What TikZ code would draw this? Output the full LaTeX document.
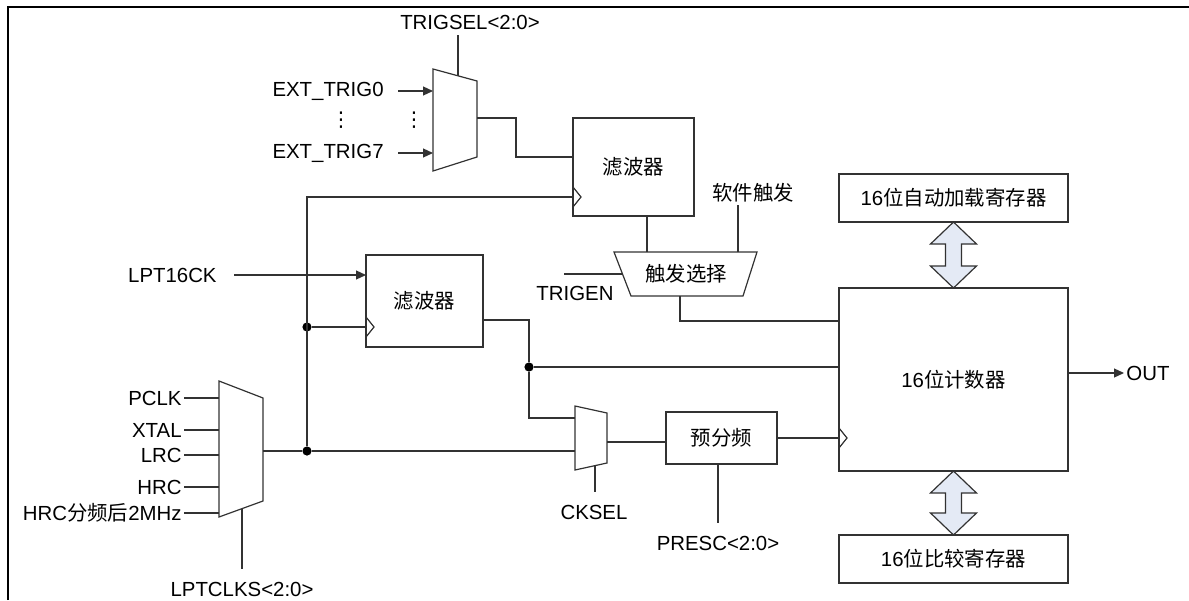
\documentclass[tikz,border=0pt]{standalone}
\usepackage{fontspec}
\setmainfont{Liberation Sans}
\newfontfamily\cjk{Noto Sans CJK SC}
\newfontfamily\symfont{DejaVu Sans}
\usetikzlibrary{arrows.meta,calc}
\definecolor{wire}{RGB}{50,50,50}
\definecolor{busfill}{RGB}{228,234,245}
\tikzset{
      blockbox/.style={
        draw=wire,
        line width=0.6pt,
        inner sep=0pt,
        outer sep=0pt,
        font=\fontsize{10.2}{12}\selectfont
      },
      sig/.style={draw=wire, line width=0.6pt},
      sigarrow/.style={sig, -{Triangle[length=5pt,width=4.5pt]}},
      lbl/.style={inner sep=1pt, font=\fontsize{10.2}{12}\selectfont},
      junction/.style={circle, fill=black, inner sep=0pt, minimum size=4.6pt},
      busarrow/.style={draw=wire, line width=0.6pt, fill=busfill, line join=miter},
      frameline/.style={line width=1pt, draw=black}
    }
\newcommand{\clkmark}[1]{\draw[sig] ($(#1)+(0,-10)$) -- ($(#1)+(8,0)$) -- ($(#1)+(0,10)$);}
\newcommand{\busdbl}[2]{\draw[busarrow] (#1) -- ++(23,22) -- ++(-15,0) -- ++(0,#2) -- ++(15,0) -- ++(-23,22) -- ++(-23,-22) -- ++(15,0) -- ++(0,-#2) -- ++(-15,0) -- cycle;}
\begin{document}
\begin{tikzpicture}[x=0.5pt,y=-0.5pt]
    \useasboundingbox (0,0) rectangle (1189,600);
    \draw[frameline] (8,600) -- (8,7) -- (1189,7);

    \node[blockbox, minimum width=60.5pt, minimum height=49pt] (filtA) at (633.5,167) {\cjk 滤波器};
    \node[blockbox, minimum width=58.5pt, minimum height=46pt] (filtB) at (424.5,301) {\cjk 滤波器};
    \node[blockbox, minimum width=55.5pt, minimum height=26pt] (presc) at (721.5,438) {\cjk 预分频};
    \node[blockbox, minimum width=114.5pt, minimum height=91.5pt] (counter) at (953.5,379.5) {16{\cjk 位计数器}};
    \node[blockbox, minimum width=114.5pt, minimum height=24pt] (reload) at (953.5,198) {16{\cjk 位自动加载寄存器}};
    \node[blockbox, minimum width=114.5pt, minimum height=24pt] (compare) at (953.5,559) {16{\cjk 位比较寄存器}};

    \draw[sig] (433,69) -- (477,81) -- (477,157) -- (433,171) -- cycle;
    \coordinate (trgmux-in0) at (433,91);
    \coordinate (trgmux-in7) at (433,153);
    \coordinate (trgmux-out) at (477,118);
    \coordinate (trgmux-sel) at (458,76);

    \draw[sig] (219,381) -- (263,398) -- (263,501) -- (219,517) -- cycle;
    \coordinate (clkmux-in0) at (219,398);
    \coordinate (clkmux-in1) at (219,430);
    \coordinate (clkmux-in2) at (219,455);
    \coordinate (clkmux-in3) at (219,487);
    \coordinate (clkmux-in4) at (219,513);
    \coordinate (clkmux-out) at (263,451);
    \coordinate (clkmux-sel) at (242,509);

    \draw[sig] (575,406) -- (607,413) -- (607,463) -- (575,470) -- cycle;
    \coordinate (ckmux-in0) at (575,418);
    \coordinate (ckmux-in1) at (575,451);
    \coordinate (ckmux-out) at (607,442);
    \coordinate (ckmux-sel) at (595,466);

    \draw[sig] (614,252) -- (757,252) -- (743,296) -- (631,296) -- cycle;
    \node[blockbox, draw=none] (tsel) at (686,274) {\cjk 触发选择};
    \coordinate (tsel-a) at (647,252);
    \coordinate (tsel-b) at (738,252);
    \coordinate (tsel-c) at (622,274);
    \coordinate (tsel-out) at (680,296);

    \node[lbl] (trigsel) at (470,22) {TRIGSEL<2:0>};
    \node[lbl, anchor=east] (ext0) at (386,91) {EXT\_TRIG0};
    \node[lbl, anchor=east] (ext7) at (386,153) {EXT\_TRIG7};
    \node[lbl] (vdotsA) at (341,120) {\symfont ⋮};
    \node[lbl] (vdotsB) at (414,120) {\symfont ⋮};
    \node[lbl, anchor=east] (lpt) at (219,275) {LPT16CK};
    \node[lbl, anchor=east] (pclk) at (184,398) {PCLK};
    \node[lbl, anchor=east] (xtal) at (184,430) {XTAL};
    \node[lbl, anchor=east] (lrc) at (184,455) {LRC};
    \node[lbl, anchor=east] (hrc) at (184,487) {HRC};
    \node[lbl, anchor=east] (hrcdiv) at (184,513) {HRC{\cjk 分频后}2MHz};
    \node[lbl] (lptclks) at (242,589) {LPTCLKS<2:0>};
    \node[lbl] (cksel) at (594,512) {CKSEL};
    \node[lbl] (prescl) at (718,543) {PRESC<2:0>};
    \node[lbl] (trigen) at (575,293) {TRIGEN};
    \node[lbl] (swtrig) at (753,193) {\cjk 软件触发};
    \node[lbl, anchor=west] (out) at (1124,373) {OUT};

    \node[junction] (jB) at (307,327) {};
    \node[junction] (jA) at (307,451) {};
    \node[junction] (jC) at (529,367) {};

    \coordinate (ckA) at ([yshift=-15pt]filtA.west);
    \coordinate (ckB) at ([yshift=-13pt]filtB.west);
    \coordinate (ckD) at ([yshift=-29.25pt]counter.west);

    \draw[sigarrow] ([xshift=6pt]ext0.east) -- (trgmux-in0);
    \draw[sigarrow] ([xshift=6pt]ext7.east) -- (trgmux-in7);
    \draw[sig] (trgmux-sel) -- ([yshift=-1.5pt]trgmux-sel |- trigsel.south);
    \draw[sig] (trgmux-out) -- ++(39,0) |- ([yshift=5pt]filtA.west);

    \draw[sigarrow] ([xshift=7.5pt]lpt.east) -- (lpt.east -| filtB.west);
    \draw[sig] (pclk.east) -- (clkmux-in0);
    \draw[sig] (xtal.east) -- (clkmux-in1);
    \draw[sig] (lrc.east) -- (clkmux-in2);
    \draw[sig] (hrc.east) -- (clkmux-in3);
    \draw[sig] (hrcdiv.east) -- (clkmux-in4);
    \draw[sig] (clkmux-sel) -- ([yshift=5pt]clkmux-sel |- lptclks.north);

    \draw[sig] (clkmux-out) -- (jA) -- (ckmux-in1);
    \draw[sig] (jA) |- (ckA);
    \draw[sig] (jB) -- (ckB);
    \clkmark{ckA}
    \clkmark{ckB}
    \clkmark{ckD}

    \draw[sig] ([yshift=-9.5pt]filtB.east) -| (jC) |- (ckmux-in0);
    \draw[sig] (jC) -- (jC -| counter.west);
    \draw[sig] (ckmux-out) -- (ckmux-out -| presc.west);
    \draw[sig] (ckmux-sel) -- ([yshift=5pt]ckmux-sel |- cksel.north);
    \draw[sig] (presc.east) -- (ckD);
    \draw[sig] (presc.south -| prescl.north) -- ([yshift=5pt]prescl.north);

    \draw[sig] (tsel-a |- filtA.south) -- (tsel-a);
    \draw[sig] (tsel-b) -- (tsel-b |- swtrig.south);
    \draw[sig] (tsel-c) -- ++(-58,0);
    \draw[sig] (tsel-out) |- ([yshift=29.25pt]counter.west);

    \draw[sigarrow] (counter.east |- out) -- (out.west);
    \busdbl{reload.south}{22}
    \busdbl{counter.south}{20}
\end{tikzpicture}
\end{document}
